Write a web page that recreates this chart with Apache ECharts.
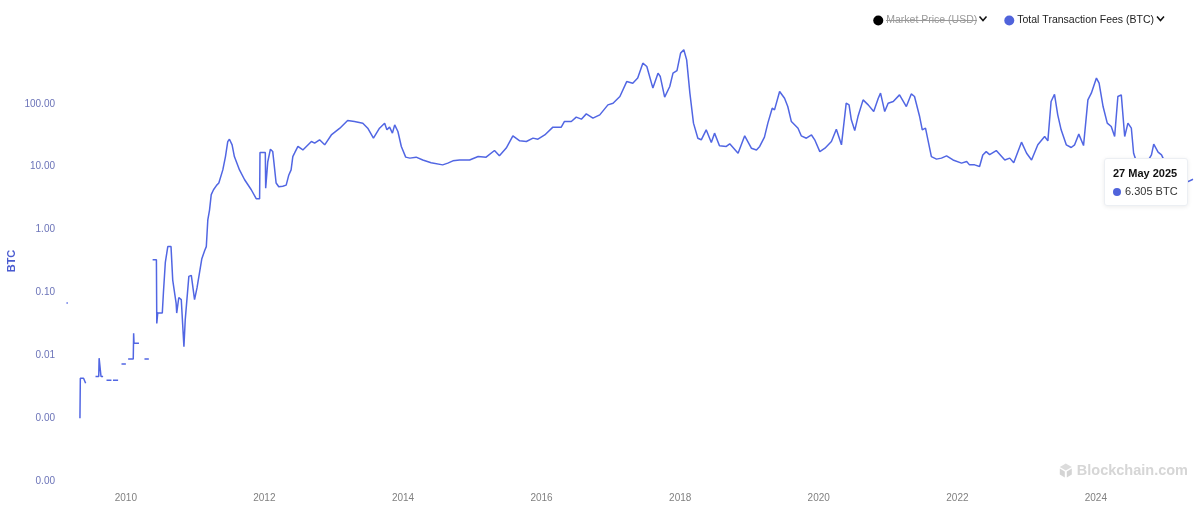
<!DOCTYPE html>
<html>
<head>
<meta charset="utf-8">
<script src="https://cdn.jsdelivr.net/npm/echarts/dist/echarts.min.js"></script>
<style>
html,body{margin:0;padding:0;background:#fff;}
#c{width:1200px;height:505px;}
</style>
</head>
<body>
<div id="c"></div>
<script>
// ---- data ----
const dates = [
 '2009-02-22','2009-03-01','2009-03-15',
 '2009-05-04','2009-05-06','2009-05-23','2009-06-03','2009-06-20',
 '2009-07-25','2009-08-11','2009-08-13','2009-08-20','2009-08-23','2009-09-03','2009-09-12',
 '2009-09-21','2009-10-17','2009-10-21',
 '2009-10-25','2009-11-21','2009-12-01',
 '2009-12-09','2010-01-01','2010-01-07',
 '2010-01-13','2010-02-09','2010-02-11','2010-02-13','2010-03-11','2010-03-25',
 '2010-04-09','2010-05-02','2010-05-12',
 '2010-05-22','2010-06-11','2010-06-13','2010-06-18','2010-07-12','2010-07-18','2010-07-28','2010-08-10','2010-08-27',
 '2010-09-05','2010-09-23','2010-09-26','2010-10-07','2010-10-20','2010-11-03','2010-11-10','2010-11-29','2010-12-12','2010-12-29',
 '2011-01-11','2011-01-21','2011-02-05','2011-02-21','2011-03-01','2011-03-09','2011-03-18','2011-03-27','2011-04-08','2011-04-25',
 '2011-05-06','2011-05-27','2011-06-10','2011-06-22','2011-07-01','2011-07-15','2011-07-27','2011-08-23','2011-09-19','2011-10-24',
 '2011-11-19','2011-12-07','2011-12-09','2012-01-06','2012-01-08','2012-01-19','2012-02-02','2012-02-14','2012-02-21','2012-03-03',
 '2012-03-17','2012-04-07','2012-04-25','2012-05-09','2012-05-21','2012-05-30','2012-06-08','2012-06-26','2012-07-22','2012-09-05',
 '2012-09-22','2012-10-18','2012-11-14','2012-12-19','2013-02-02','2013-03-15','2013-04-20','2013-06-03','2013-06-29','2013-07-29',
 '2013-08-30','2013-09-26','2013-10-08','2013-10-22','2013-11-06','2013-11-18','2013-12-05','2013-12-23','2014-01-15','2014-02-06',
 '2014-03-11','2014-04-15','2014-05-29','2014-07-29','2014-08-25','2014-09-21','2014-10-26','2014-12-18','2015-02-01','2015-03-15',
 '2015-04-28','2015-05-24','2015-06-29','2015-08-03','2015-09-08','2015-10-13','2015-11-17','2015-12-13','2016-01-18','2016-03-01',
 '2016-04-14','2016-05-01','2016-06-06','2016-07-02','2016-07-29','2016-08-24','2016-09-28','2016-11-03','2016-12-16','2017-01-12',
 '2017-02-17','2017-03-25','2017-04-26','2017-05-22','2017-06-18','2017-07-09','2017-08-10','2017-09-06','2017-09-18','2017-10-11',
 '2017-11-07','2017-11-24','2017-12-15','2018-01-03','2018-01-20','2018-02-04','2018-02-21','2018-03-12','2018-04-04','2018-04-22',
 '2018-05-18','2018-06-14','2018-07-01','2018-07-27','2018-09-01','2018-09-19','2018-11-02','2018-12-07','2019-01-11','2019-02-07',
 '2019-02-24','2019-03-21','2019-04-08','2019-05-01','2019-05-13','2019-06-09','2019-07-05','2019-07-22','2019-08-10','2019-09-14',
 '2019-10-01','2019-10-28','2019-11-24','2019-12-11','2020-01-07','2020-02-03','2020-03-08','2020-04-03','2020-04-12','2020-04-30',
 '2020-05-25','2020-06-09','2020-06-21','2020-07-09','2020-07-26','2020-08-22','2020-09-18','2020-10-17','2020-11-10','2020-11-22',
 '2020-12-14','2021-01-01','2021-01-28','2021-03-02','2021-04-07','2021-05-03','2021-05-20','2021-06-16','2021-06-30','2021-07-17',
 '2021-08-17','2021-09-13','2021-10-09','2021-11-05','2021-12-09','2022-01-23','2022-02-19','2022-03-06','2022-04-02','2022-04-28',
 '2022-05-15','2022-06-02','2022-06-20','2022-07-25','2022-09-08','2022-10-04','2022-10-25','2022-12-05','2023-01-01','2023-01-27',
 '2023-03-01','2023-04-06','2023-04-23','2023-05-10','2023-05-28','2023-06-14','2023-07-02','2023-07-29','2023-08-24','2023-09-11',
 '2023-10-03','2023-10-28','2023-11-20','2023-12-08','2024-01-04','2024-01-18','2024-02-08','2024-03-01','2024-03-22','2024-04-09',
 '2024-04-26','2024-05-14','2024-06-01','2024-06-18','2024-07-06','2024-07-18','2024-07-29','2024-08-24','2024-09-25','2024-10-20',
 '2024-11-01','2024-11-24','2024-12-12','2025-01-04','2025-02-05','2025-03-07','2025-04-08','2025-05-01','2025-05-27'
];
const fees = [
 0.068,0.068,null,
 0.001,0.0043,0.0043,0.0036,null,
 0.0046,0.0046,0.009,0.009,0.0046,0.0046,null,
 0.004,0.004,null,
 0.004,0.004,null,
 0.0073,0.0073,null,
 0.0087,0.0087,0.0224,0.0155,0.0155,null,
 0.0087,0.0087,null,
 0.33,0.33,0.032,0.047,0.047,0.1,0.3,0.536,0.536,
 0.157,0.067,0.047,0.083,0.077,0.0137,0.037,0.18,0.187,0.077,
 0.118,0.11,0.34,0.47,0.536,1.43,2.04,3.6,4.3,5.1,
 5.5,8.9,14.5,25.1,27.4,22.3,14.5,8.9,6.2,4.3,
 3.1,3.1,16.8,16.8,4.55,12,19.0,17.5,11.3,5.5,
 4.8,4.9,5.1,7.4,8.9,14.5,16.4,21.0,18.5,25.2,
 23.7,26.8,22.3,32,41,54.4,52.3,49.3,41,28.4,
 41,49.3,38.6,42.6,34.2,46.3,36.3,21.0,14.2,13.7,
 14.2,12.8,11.6,10.7,11.4,12.4,12.8,12.8,14.5,14.2,
 18.1,14.9,19.8,30.9,25.8,25.2,28.5,27.4,32,42.6,
 42.6,52.5,52.5,61.5,57.1,69.3,59.2,66.8,96.4,102.5,
 130.7,226,213,257,444,393,178,308,272,128,
 189,308,339,641,724,501,148,49.3,28.4,26.8,
 38.6,24.3,34.2,21.5,21.0,23.1,16.4,31,19.7,18.5,
 21,29.5,49.3,85.4,80.3,157.6,123,90.7,52.3,41,
 31,28.4,32,26.8,17.4,19.7,25.2,39.5,38,22.3,
 102.5,96.4,55.7,37.6,62.8,115.8,96.4,75.4,123,148,
 75.4,102.5,109,139,90.7,144,131,62.8,38.6,41,
 14.5,13.2,13.7,14.9,12.8,11.4,12.1,10.7,10.7,10.1,
 15.4,17.4,15.6,18.1,12.8,13.7,11.6,24.6,16.4,12.8,
 22.3,30.2,25.8,109,142,66.8,38.6,22.3,20.2,22.3,
 33,21.7,115.8,148,257,213,90.7,49.3,43.6,30.2,
 131,139,30.2,49.3,41,16.4,13,10.5,11.5,15.4,
 22.8,17.1,15.4,11,8.5,7.3,6.5,5.8,6.305
];
const legendNames = ['Market Price (USD)', 'Total Transaction Fees (BTC)'];
const yAxisName = 'BTC';
const months = ['Jan','Feb','Mar','Apr','May','Jun','Jul','Aug','Sep','Oct','Nov','Dec'];

const FONT = '"Liberation Sans", Arial, Helvetica, sans-serif';
const LINE = '#4a5dcf';

const chart = echarts.init(document.getElementById('c'), null, {renderer: 'canvas'});
const seriesData = dates.map((d, i) => [d, fees[i] == null ? '-' : fees[i]]);

chart.setOption({
  useUTC: true,
  animation: false,
  backgroundColor: '#fff',
  textStyle: {fontFamily: FONT},
  grid: {left: 57, right: 7, top: 41, bottom: 24, containLabel: false, outerBoundsMode: 'none'},
  legend: {
    top: 10, right: 41, itemGap: 27, itemWidth: 10, itemHeight: 10, icon: 'circle',
    selectedMode: false,
    textStyle: {fontSize: 10.5, color: '#222', fontFamily: FONT, padding: [0,0,0,-2]},
    data: [
      {name: legendNames[0], itemStyle: {color: '#000'}, textStyle: {color: '#9a9a9a'}},
      {name: legendNames[1], itemStyle: {color: '#5063db'}}
    ]
  },
  tooltip: {
    trigger: 'axis',
    triggerOn: 'none',
    alwaysShowContent: true,
    axisPointer: {type: 'none'},
    backgroundColor: '#fff',
    borderColor: '#eceff3',
    borderWidth: 1,
    padding: [8, 9, 7, 8],
    extraCssText: 'box-shadow:0 1px 4px rgba(0,0,0,0.08);border-radius:3px;',
    position: function (pt, params, dom, rect, size) {
      return [pt[0] - size.contentSize[0] - 5, pt[1] - 21];
    },
    formatter: function (params) {
      const p = params.find(q => q.seriesIndex === 1) || params[0];
      const d = new Date(p.value[0]);
      const title = d.getUTCDate() + ' ' + months[d.getUTCMonth()] + ' ' + d.getUTCFullYear();
      return '<div style="font-family:Liberation Sans,Arial,sans-serif;font-weight:bold;font-size:11px;color:#111;line-height:13px;margin-bottom:5px">' + title + '</div>' +
        '<div style="font-family:Liberation Sans,Arial,sans-serif;font-size:11px;color:#333;line-height:13px">' +
        '<span style="display:inline-block;width:8px;height:8px;border-radius:50%;background:#5063db;margin-right:4px;vertical-align:-1px"></span>' +
        Number(p.value[1]).toFixed(3) + ' BTC</div>';
    }
  },
  xAxis: {
    type: 'time',
    min: '2009-01-03',
    max: '2025-05-27',
    splitNumber: 16,
    axisLine: {show: false},
    axisTick: {show: false},
    splitLine: {show: false},
    axisLabel: {
      color: '#808080', fontSize: 10, margin: 12, fontFamily: FONT,
      hideOverlap: false,
      formatter: function (v) {
        const d = new Date(v);
        return (d.getUTCMonth() === 0 && d.getUTCDate() === 1 && d.getUTCFullYear() % 2 === 0) ? String(d.getUTCFullYear()) : '';
      }
    }
  },
  yAxis: [{
    type: 'log',
    logBase: 10,
    min: 0.0001,
    max: 1000,
    name: yAxisName,
    nameLocation: 'middle',
    nameGap: 40,
    nameMoveOverlap: false,
    nameTextStyle: {color: '#4a5bd0', fontWeight: 'bold', fontSize: 11, fontFamily: FONT},
    axisLine: {show: false},
    axisTick: {show: false},
    splitLine: {show: false},
    axisLabel: {
      color: '#6b73b8', fontSize: 10, margin: 2, fontFamily: FONT,
      showMaxLabel: false,
      formatter: function (v) { return v >= 1000 ? '' : Number(v).toFixed(2); }
    }
  }, {
    type: 'value', show: false
  }],
  series: [{
    name: legendNames[0],
    type: 'line',
    yAxisIndex: 1,
    data: [],
    itemStyle: {color: '#000'}
  }, {
    name: legendNames[1],
    type: 'line',
    yAxisIndex: 0,
    data: seriesData,
    showSymbol: false,
    symbol: 'none',
    connectNulls: false,
    lineStyle: {color: LINE, width: 1.5},
    itemStyle: {color: '#5063db'}
  }],
  graphic: [
    // strike-through on the hidden legend item and dropdown chevrons
    {type: 'line', id: 'strike', shape: {x1: 886, y1: 20.5, x2: 977, y2: 20.5}, style: {stroke: '#9a9a9a', lineWidth: 1}, silent: true},
    {type: 'polyline', id: 'chev1', shape: {points: [[979.5, 16.5], [983, 20.5], [986.5, 16.5]]}, style: {stroke: '#111', lineWidth: 1.5, fill: null}, silent: true},
    {type: 'polyline', id: 'chev2', shape: {points: [[1157, 16.5], [1160.5, 20.5], [1164, 16.5]]}, style: {stroke: '#111', lineWidth: 1.5, fill: null}, silent: true},
    // watermark
    {type: 'group', right: 12, bottom: 27, silent: true, children: [
      {type: 'polygon', shape: {points: [[6, 0], [12, 3.5], [6, 7], [0, 3.5]]}, style: {fill: '#dcdcdc'}},
      {type: 'polygon', shape: {points: [[0, 5], [5, 8], [5, 14], [0, 11]]}, style: {fill: '#d4d4d4'}},
      {type: 'polygon', shape: {points: [[7, 8], [12, 5], [12, 11], [7, 14]]}, style: {fill: '#d4d4d4'}},
      {type: 'text', x: 17, y: -0.5, style: {text: 'Blockchain.com', fontSize: 14.5, fontWeight: 'bold', fill: '#d6d6d6', fontFamily: FONT}}
    ]}
  ]
});

chart.dispatchAction({type: 'showTip', seriesIndex: 1, dataIndex: dates.length - 1});
</script>
</body>
</html>
